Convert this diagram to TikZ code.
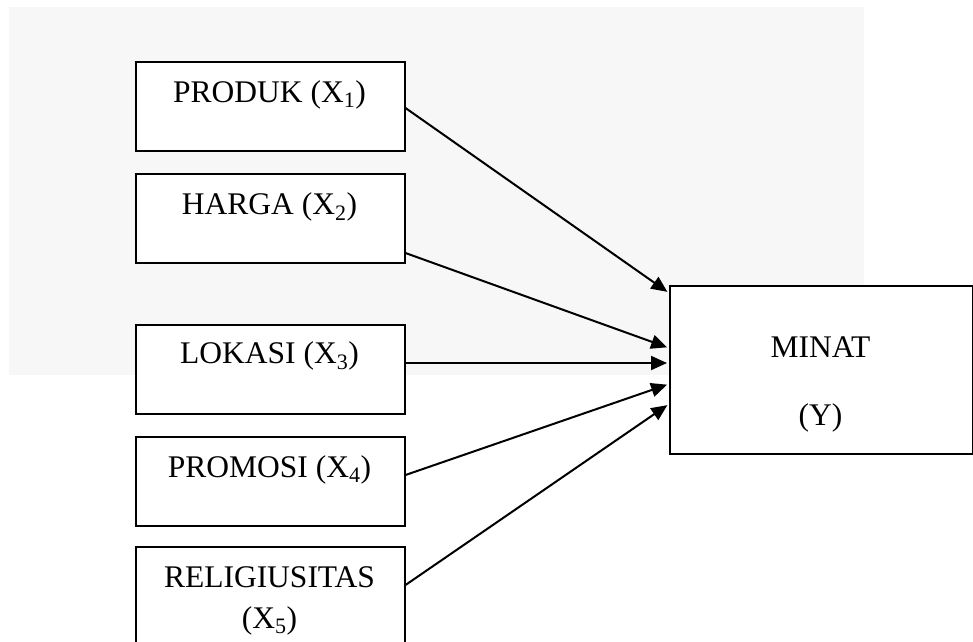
\documentclass[tikz,border=0pt]{standalone}
\usepackage{fontspec}
\setmainfont{Liberation Serif}
\usetikzlibrary{arrows.meta}
\definecolor{bggray}{HTML}{F7F7F7}
\begin{document}
\begin{tikzpicture}[x=1pt,y=-1pt,
  box/.style={draw=black,line width=1.5pt,fill=white,rectangle,inner sep=0pt,anchor=north west,minimum width=269pt,minimum height=89pt},
  lbl/.style={font=\fontsize{31.5}{41}\selectfont,inner sep=0pt,anchor=base},
  arr/.style={line width=2pt,shorten >=2pt,-{Triangle[length=16pt,width=14pt]}}]
\useasboundingbox (0,0) rectangle (973,641);
\clip (0,0) rectangle (973,641);
\fill[bggray] (9,7) rectangle (864,375);
% boxes
\node[box] (x1) at (135,61) {};
\node[box] (x2) at (135,173) {};
\node[box] (x3) at (135,324) {};
\node[box] (x4) at (135,436) {};
\node[box,minimum height=100pt] (x5) at (135,546) {};
\node[box,minimum width=303pt,minimum height=168pt] (y) at (669,285) {};
% texts
\node[lbl] (t1) at (269.5,102) {PRODUK (X\textsubscript{1})};
\node[lbl] (t2) at (269.5,214) {HARGA (X\textsubscript{2})};
\node[lbl] (t3) at (269.5,363) {LOKASI (X\textsubscript{3})};
\node[lbl] (t4) at (269.5,477) {PROMOSI (X\textsubscript{4})};
\node[lbl] (t5) at (269.5,587) {RELIGIUSITAS};
\node[lbl] (t5b) at (269.5,628) {(X\textsubscript{5})};
\node[lbl] (ty) at (820.5,357) {MINAT};
\node[lbl] (tyb) at (820.5,425) {(Y)};
% arrows
\draw[arr] ([yshift=-47pt]x1.north east) -- ([yshift=-8pt]y.north west);
\draw[arr] ([yshift=-80pt]x2.north east) -- ([yshift=-63pt]y.north west);
\draw[arr] ([yshift=-39pt]x3.north east) -- ([yshift=-78pt]y.north west);
\draw[arr] ([yshift=-39pt]x4.north east) -- ([yshift=-99pt]y.north west);
\draw[arr] ([yshift=-39pt]x5.north east) -- ([yshift=-119pt]y.north west);
\end{tikzpicture}
\end{document}
